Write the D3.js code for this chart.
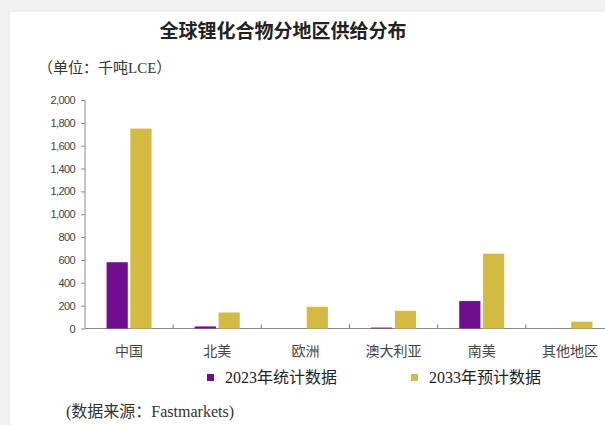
<!DOCTYPE html>
<html>
<head>
<meta charset="utf-8">
<script src="https://cdn.jsdelivr.net/npm/d3@7"></script>
<style>
  html, body { margin: 0; padding: 0; background: #f3f3f3; }
  #chart { position: relative; }
</style>
</head>
<body>
<div id="chart"></div>
<script>
// regions and series (thousand tonnes LCE)
const regions = ["中国", "北美", "欧洲", "澳大利亚", "南美", "其他地区"];
const values2023 = [580, 18, 0, 8, 240, 0];
const values2033 = [1750, 140, 190, 155, 655, 60];
const seriesNames = ["2023年统计数据", "2033年预计数据"];
const yTicks = [0, 200, 400, 600, 800, 1000, 1200, 1400, 1600, 1800, 2000];

const width = 605, height = 425;
const colors = ["#710e8e", "#d3bb42"];
const cjk = "'Liberation Serif', 'Noto Sans CJK SC', serif";

const svg = d3.select("#chart").append("svg")
    .attr("width", width)
    .attr("height", height)
    .style("display", "block");

// page frame: grey band top/left, white card
svg.append("rect").attr("width", width).attr("height", height).attr("fill", "#f2f2f2");
svg.append("rect").attr("x", 9).attr("y", 11).attr("width", width).attr("height", height).attr("fill", "#fff");
svg.append("line").attr("x1", 9).attr("x2", width).attr("y1", 11).attr("y2", 11).attr("stroke", "#e6e6e6");
svg.append("line").attr("x1", 9).attr("x2", 9).attr("y1", 11).attr("y2", height).attr("stroke", "#e6e6e6");

svg.append("text")
    .attr("x", 283).attr("y", 38)
    .attr("text-anchor", "middle")
    .style("font", "bold 19px 'Noto Sans CJK SC', sans-serif")
    .attr("fill", "#222")
    .text("全球锂化合物分地区供给分布");

svg.append("text")
    .attr("x", 38).attr("y", 73)
    .style("font-family", cjk).style("font-size", "15px")
    .attr("fill", "#333")
    .text("（单位：千吨LCE）");

const x = d3.scaleBand().domain(regions).range([85, 614]);
const y = d3.scaleLinear().domain([0, 2000]).range([328.5, 100]);
const inner = d3.scaleBand().domain([0, 1]).range([0, 45]).paddingInner(0.11);

// y axis
const yAxis = svg.append("g")
    .attr("transform", "translate(85,0)")
    .call(d3.axisLeft(y).tickValues(yTicks).tickFormat(d3.format(",")).tickSize(4).tickPadding(6));
yAxis.select(".domain").attr("stroke", "#8a8a8a").attr("d", "M0," + y(2000) + "V" + y(0));
yAxis.selectAll(".tick line").attr("stroke", "#8a8a8a");
yAxis.selectAll(".tick text")
    .attr("fill", "#444")
    .style("font", "11px 'Liberation Sans', Arial, sans-serif")
    .style("letter-spacing", "-0.6px");

// x axis line and boundary ticks
svg.append("line")
    .attr("x1", 85).attr("x2", 614)
    .attr("y1", y(0)).attr("y2", y(0))
    .attr("stroke", "#8a8a8a");
svg.selectAll(".xtick")
    .data(regions.slice(1))
    .join("line")
    .attr("x1", d => x(d)).attr("x2", d => x(d))
    .attr("y1", y(0)).attr("y2", y(0) - 4)
    .attr("stroke", "#777");

// bars
const groups = svg.append("g").selectAll("g")
    .data(regions)
    .join("g")
    .attr("transform", d => `translate(${x(d) + x.bandwidth() / 2 - 22.5},0)`);

[values2023, values2033].forEach((vals, s) => {
    groups.append("rect")
        .attr("x", inner(s))
        .attr("width", inner.bandwidth())
        .attr("y", (d, i) => y(vals[i]))
        .attr("height", (d, i) => y(0) - y(vals[i]))
        .attr("fill", colors[s]);
});

// category labels
svg.selectAll(".xlabel")
    .data(regions)
    .join("text")
    .attr("x", d => x(d) + x.bandwidth() / 2)
    .attr("y", 356)
    .attr("text-anchor", "middle")
    .style("font-family", cjk).style("font-size", "14px")
    .attr("fill", "#444")
    .text(d => d);

// legend
const legendX = [207, 411];
seriesNames.forEach((name, i) => {
    svg.append("rect")
        .attr("x", legendX[i]).attr("y", 374)
        .attr("width", 7).attr("height", 7)
        .attr("fill", colors[i]);
    svg.append("text")
        .attr("x", legendX[i] + 18).attr("y", 383)
        .style("font-family", cjk).style("font-size", "16px")
        .attr("fill", "#222")
        .text(name);
});

svg.append("text")
    .attr("x", 66).attr("y", 417)
    .style("font-family", cjk).style("font-size", "16px")
    .attr("fill", "#333")
    .text("(数据来源：Fastmarkets)");
</script>
</body>
</html>
